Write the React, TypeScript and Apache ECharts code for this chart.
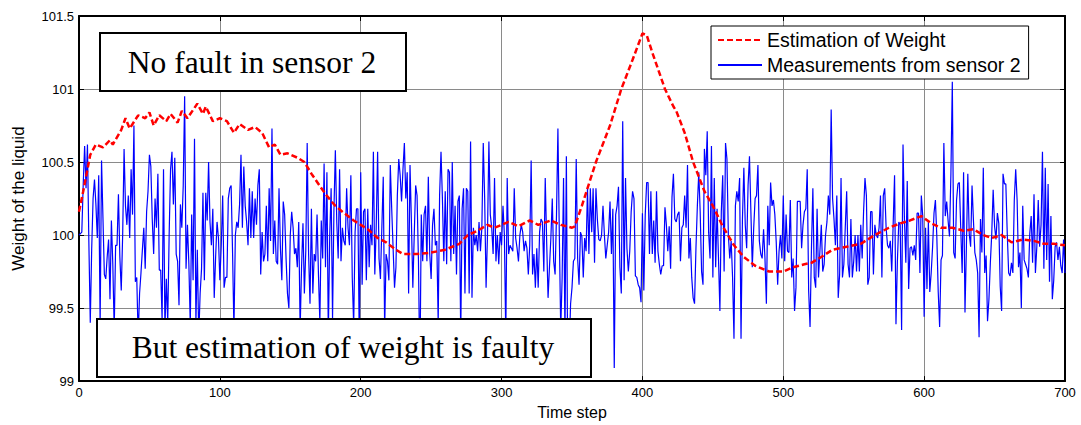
import React, { useEffect, useRef } from "react";
import * as echarts from "echarts";

// ---- data ----
const xTicks = [0, 100, 200, 300, 400, 500, 600, 700];
const yTicks = [99, 99.5, 100, 100.5, 101, 101.5];

// blue measurements from sensor 2, one value per time step (0..700)
const measA = [
  100.00, 100.01, 100.02, 100.35, 100.61, 100.32, 100.62, 99.95, 99.40, 99.90,
  100.25, 100.38, 100.21, 99.98, 100.41, 99.38, 100.51, 100.12, 99.73, 99.70,
  99.85, 99.97, 99.56, 100.10, 99.80, 99.35, 99.93, 99.93, 100.28, 99.85,
  99.62, 100.00, 100.59, 100.20, 100.07, 100.27, 99.98, 100.45, 100.14, 100.75,
  99.68, 99.71, 99.30, 99.60, 99.74, 99.90, 100.05, 99.77, 100.16, 100.30,
  100.55, 100.47, 100.11, 99.87, 100.25, 100.05, 100.42, 99.76, 99.76, 99.42,
  100.45, 99.35, 99.70, 99.40, 100.00, 100.45, 100.57, 100.21, 100.53, 99.87,
  99.82, 99.52, 100.21, 100.05, 100.34, 100.95, 99.77, 100.07, 99.80, 99.38,
  100.14, 99.69, 100.66, 99.40, 99.90, 99.30, 99.60, 99.77, 100.29, 99.69,
  100.29, 100.10, 100.50, 100.09, 99.93, 100.18, 99.57, 99.85, 100.09, 99.98,
  99.69, 99.93, 100.27, 99.64, 99.71, 99.71, 100.25, 100.32, 100.34, 99.89,
  99.35, 100.00, 100.09, 100.05, 100.21, 100.55, 100.05,
];
const measB = [
  100.47, 100.20, 100.09, 99.93, 100.32, 99.98, 100.30, 99.98, 100.25, 100.07,
  100.34, 100.45, 99.73, 100.02, 99.82, 99.87, 100.20, 99.82, 100.32, 99.96,
  100.73, 99.87, 100.10, 99.82, 99.80, 100.32, 99.91, 99.69, 100.23, 100.14,
  99.84, 99.60, 99.50, 100.00, 100.16, 100.05, 99.87, 99.91, 99.78, 100.09,
  99.35, 99.78, 100.08, 99.60, 99.89, 100.63, 99.87, 99.53, 100.18, 99.60,
  99.87, 99.82, 100.14, 99.73, 99.40, 100.10, 99.84, 100.49, 99.78, 100.43,
  99.30, 100.00, 100.32, 99.42, 100.18, 100.58, 100.09, 99.84, 100.45, 99.82,
  100.05, 99.96, 99.93, 100.32, 100.05, 99.93, 100.41, 99.71, 99.38, 100.02,
  100.18, 100.18, 99.25, 100.43, 99.66, 100.16, 100.18, 99.69, 100.18, 99.78,
  100.07, 99.93, 100.57, 99.73, 100.05, 100.57, 99.84, 99.70, 100.05, 100.40,
  99.35, 99.87, 99.82, 99.69, 100.48, 100.18, 99.91, 99.64, 99.78, 100.27,
  100.52, 100.41, 100.23, 100.45, 100.63, 100.25, 100.43, 99.60,
];
const measC = [
  100.48, 100.09, 99.64, 100.00, 100.34, 100.27, 99.82, 99.02, 100.14, 99.82,
  100.14, 100.20, 99.82, 100.40, 99.87, 99.70, 100.07,
  100.18, 99.93, 99.96, 99.40, 100.27, 100.57, 100.25, 99.82, 100.30, 99.80,
  100.45, 100.43, 99.82, 100.50, 99.87, 100.20,
  99.73, 100.23, 100.27, 99.30, 100.18, 100.32, 99.60, 100.32, 100.30, 99.60,
  100.64, 99.57, 100.05,
  99.93, 100.00, 99.89, 100.09, 99.89,
  100.05, 100.63, 100.25, 99.64, 100.00, 100.64, 100.14, 100.05, 99.87,
  100.39, 99.82, 100.00, 99.80, 100.02, 99.93, 100.20, 100.00, 99.30, 100.39,
  99.87, 99.93, 99.91,
  99.89, 100.32, 99.98, 99.91, 99.82, 100.00, 100.07, 100.02, 99.89, 99.96,
  99.91, 99.73, 99.93, 100.51, 99.73,
  99.87, 99.64, 99.91, 99.64, 100.02, 100.11, 100.09, 99.75, 100.39, 99.96,
  99.57, 99.78, 99.98, 100.25, 99.82, 99.73, 100.14,
  100.73,
  100.00, 99.35, 99.71, 100.39, 99.30, 100.54, 99.03, 99.20, 99.53, 99.64,
  99.82, 99.84,
];
const measD = [
  100.52,
  99.84, 99.66, 100.02, 99.99, 99.71, 99.98, 99.89, 100.32, 99.87, 100.32,
  100.02, 100.32, 99.81, 100.32, 100.11, 99.97, 99.96, 100.00, 100.20, 100.00,
  99.84, 99.93, 100.02, 100.23, 99.87, 100.18, 99.09, 100.14, 100.20, 100.33,
  99.78, 99.60,
  100.78,
  99.69, 100.39, 99.91, 99.75, 99.89, 100.16, 100.30, 100.25, 99.72, 99.71,
  99.66, 99.64, 99.54, 100.15, 99.62, 100.14, 100.36, 100.36, 99.87, 100.30,
  99.87, 100.10, 99.81, 100.30, 99.89, 99.80, 99.73, 99.79, 99.79, 100.19,
  100.07, 99.89, 100.06, 99.77, 100.26, 100.42, 100.11, 100.09, 100.14, 100.16,
  99.82, 100.05, 100.07, 100.27, 100.05, 100.48, 99.84, 99.98, 99.71, 99.57,
  99.53, 99.91, 100.20, 100.43, 100.16, 99.75, 99.66, 100.59, 100.41, 100.71,
  100.02, 99.84, 100.61, 99.71, 100.39, 99.78, 100.18, 99.84, 99.48, 100.16,
  100.41, 99.75, 100.63, 100.52, 100.00, 99.84, 99.96, 99.71, 99.29, 100.20,
  100.30, 100.23, 100.39,
];
const measE = [
  99.29, 100.11, 100.46, 100.07, 99.91, 100.34, 100.54, 100.16, 99.78, 100.05,
  100.25, 100.27, 100.48, 99.96, 99.87, 99.84, 100.04, 99.84, 99.53, 100.20,
  99.93, 100.36, 100.20, 100.24, 100.14, 99.95, 99.66, 99.89, 100.00, 99.84,
  100.27, 99.82, 100.14, 99.89, 99.88, 100.24, 99.71, 99.84, 99.48, 99.64,
  100.23, 100.23, 100.23, 99.91, 100.07, 100.16, 100.18, 100.45, 99.62,
  99.37,
  99.91, 100.32, 99.71, 99.64, 100.18, 99.71, 99.89, 100.07, 99.75, 99.80,
  100.00, 100.09, 100.27, 100.14,
  100.86,
  100.25, 100.11, 99.93, 100.27, 99.57, 99.73, 100.39, 99.71, 99.80, 100.05,
  100.30, 99.80, 99.71, 100.11, 99.71, 99.82, 100.00, 99.75, 100.00, 99.75,
  100.07, 99.84, 100.16, 100.39, 100.27, 99.66, 99.71, 100.16, 100.16, 99.73,
  100.07, 100.00, 99.98, 100.05, 100.27, 99.71, 100.27, 100.32, 100.05, 99.93,
  99.91, 99.96, 99.75, 100.07, 100.41, 99.39, 99.82, 100.09, 100.07, 99.35,
  100.62, 100.11,
];
const measF = [
  99.81, 100.37, 99.63, 99.91, 99.92, 99.86, 99.93, 99.83, 100.15, 100.15,
  99.74, 100.27, 100.13, 99.44, 100.05, 99.63, 100.09, 99.61, 99.74, 99.92,
  100.15, 100.24, 99.99, 99.61, 99.37, 99.83, 99.86, 100.63, 100.13, 100.23,
  100.10, 99.99, 100.42,
  101.05,
  99.88, 99.84, 100.24, 100.35, 100.36, 100.04, 99.74, 100.43, 99.47, 99.92,
  100.42, 100.01, 99.92, 100.34, 100.10, 99.88, 99.83, 99.74, 99.30, 100.11,
  99.88, 100.46, 99.74, 99.86, 99.41, 99.56, 99.81, 100.01, 100.31, 100.06,
  99.97, 100.15, 100.08, 99.65, 99.48, 100.42, 100.35, 100.35, 100.01, 99.74,
  99.72, 99.81, 99.74, 100.24, 100.45, 100.24, 99.78, 99.88, 99.50, 100.20,
  99.83, 99.80, 99.77, 99.71, 100.01, 100.13, 99.81, 100.28, 99.74, 99.92,
  100.24, 99.92, 100.07, 100.57, 99.77, 100.46, 99.83, 100.35, 99.68, 100.13,
  99.56, 99.69, 99.92, 99.95, 99.83, 99.92, 99.79, 99.74, 99.97, 99.74,
];
const measurements = [...measA, ...measB, ...measC, ...measD, ...measE, ...measF];

// red dashed estimation of weight
const estSteps = [
  0, 3, 8, 12, 17, 22, 24, 30, 33, 36, 42, 47, 50, 53, 57, 62, 65, 70, 73, 77,
  84, 88, 90, 95, 100, 105, 110, 114, 120, 125, 130, 135, 139, 143, 148, 155,
  160, 165, 170, 175, 182, 187, 195, 200, 205, 212, 218, 225, 230, 240, 250,
  260, 270, 276, 283, 290, 295, 305, 312, 320, 326, 335, 342, 350, 352, 357,
  367, 377, 385, 393, 400, 403, 407, 416, 422, 424, 430, 436, 444, 450, 457,
  465, 472, 480, 490, 500, 507, 515, 520, 527, 535, 545, 555, 565, 575, 583,
  590, 598, 605, 612, 620, 628, 635, 642, 648, 655, 662, 670, 678, 685, 692, 700,
];
const estValues = [
  100.16, 100.3, 100.55, 100.62, 100.6, 100.65, 100.62, 100.72, 100.8, 100.73,
  100.82, 100.8, 100.84, 100.75, 100.82, 100.78, 100.83, 100.77, 100.85, 100.8,
  100.9, 100.83, 100.88, 100.78, 100.8, 100.78, 100.7, 100.76, 100.72, 100.74,
  100.7, 100.6, 100.62, 100.55, 100.56, 100.53, 100.5, 100.42, 100.35, 100.28,
  100.2, 100.16, 100.1, 100.07, 100.04, 99.98, 99.95, 99.9, 99.87, 99.87, 99.88,
  99.9, 99.94, 100.0, 100.03, 100.07, 100.05, 100.09, 100.06, 100.1, 100.07,
  100.1, 100.07, 100.05, 100.06, 100.2, 100.5, 100.75, 101.0, 101.2, 101.38,
  101.37, 101.25, 101.0, 100.88, 100.85, 100.7, 100.5, 100.3, 100.2, 100.06,
  99.93, 99.85, 99.79, 99.75, 99.75, 99.78, 99.8, 99.81, 99.85, 99.9, 99.92,
  99.94, 100.0, 100.05, 100.08, 100.1, 100.13, 100.08, 100.05, 100.05, 100.03,
  100.04, 100.0, 99.98, 100.0, 99.95, 99.97, 99.96, 99.94, 99.94, 99.93,
];

const estName = "Estimation of Weight";
const measName = "Measurements from sensor 2";
const note1 = "No fault in sensor 2";
const note2 = "But estimation of weight is faulty";

export default function App() {
  const ref = useRef<HTMLDivElement>(null);
  useEffect(() => {
    document.body.style.margin = "0";
    const chart = echarts.init(ref.current!, null, { renderer: "svg" });
    const axisFont = { fontFamily: "Arial, 'Liberation Sans', sans-serif", color: "#000" };
    const grid = { lineStyle: { color: "#8a8a8a", width: 1 } };
    const tick = { show: true, inside: true, length: 5, lineStyle: { color: "#000", width: 1 } };
    const line = { show: true, onZero: false, lineStyle: { color: "#000", width: 2 } };
    const serif = "'Liberation Serif', 'Times New Roman', serif";
    chart.setOption({
      animation: false,
      backgroundColor: "#fff",
      grid: { left: 79, right: 16, top: 16, bottom: 39, containLabel: false },
      xAxis: [
        {
          type: "value", min: xTicks[0], max: xTicks[xTicks.length - 1], interval: 100,
          axisLine: line, axisTick: tick, splitLine: { show: true, ...grid },
          axisLabel: { ...axisFont, fontSize: 13, margin: 5 },
          name: "Time step", nameLocation: "middle", nameGap: 21,
          nameTextStyle: { ...axisFont, fontSize: 16 },
        },
        {
          type: "value", position: "top", min: 0, max: 700, interval: 100,
          axisLine: line, axisTick: tick, splitLine: { show: false }, axisLabel: { show: false },
        },
      ],
      yAxis: [
        {
          type: "value", min: yTicks[0], max: yTicks[yTicks.length - 1], interval: 0.5,
          axisLine: line, axisTick: tick, splitLine: { show: true, ...grid },
          axisLabel: { ...axisFont, fontSize: 13, margin: 5 },
          name: "Weight of the liquid", nameLocation: "middle", nameGap: 52,
          nameTextStyle: { ...axisFont, fontSize: 17 },
        },
        {
          type: "value", position: "right", min: 99, max: 101.5, interval: 0.5,
          axisLine: line, axisTick: tick, splitLine: { show: false }, axisLabel: { show: false },
        },
      ],
      legend: {
        data: [estName, measName],
        orient: "vertical", left: 711, top: 26,
        itemWidth: 44, itemHeight: 12, itemGap: 5,
        padding: [4, 8, 4, 6],
        backgroundColor: "#fff", borderColor: "#000", borderWidth: 1,
        itemStyle: { opacity: 0 },
        textStyle: { ...axisFont, fontSize: 19.5 },
      },
      series: [
        {
          name: measName, type: "line", xAxisIndex: 0, yAxisIndex: 0,
          data: measurements.map((v, i) => [i, v]),
          symbol: "none", lineStyle: { color: "#0000ff", width: 1.2 },
          itemStyle: { color: "#0000ff" }, z: 2,
        },
        {
          name: estName, type: "line", xAxisIndex: 0, yAxisIndex: 0,
          data: estSteps.map((s, i) => [s, estValues[i]]),
          symbol: "none", lineStyle: { color: "#ff0000", width: 2.5, type: [6, 3] },
          itemStyle: { color: "#ff0000" }, z: 3,
        },
      ],
      graphic: [
        {
          type: "rect", left: 99, top: 32, z: 100,
          shape: { width: 306, height: 58 },
          style: { fill: "#fff", stroke: "#000", lineWidth: 2 },
        },
        {
          type: "text", x: 252, y: 62, z: 101,
          style: {
            text: note1, fontSize: 31.5, fontFamily: serif,
            fill: "#000", align: "center", verticalAlign: "middle",
          },
        },
        {
          type: "rect", left: 96, top: 318, z: 100,
          shape: { width: 494, height: 58 },
          style: { fill: "#fff", stroke: "#000", lineWidth: 2 },
        },
        {
          type: "text", x: 343, y: 347, z: 101,
          style: {
            text: note2, fontSize: 31.5, fontFamily: serif,
            fill: "#000", align: "center", verticalAlign: "middle",
          },
        },
      ],
    });
    return () => chart.dispose();
  }, []);
  return (
    <div
      ref={ref}
      style={{ position: "absolute", left: 0, top: 0, width: 1081, height: 425 }}
    />
  );
}
